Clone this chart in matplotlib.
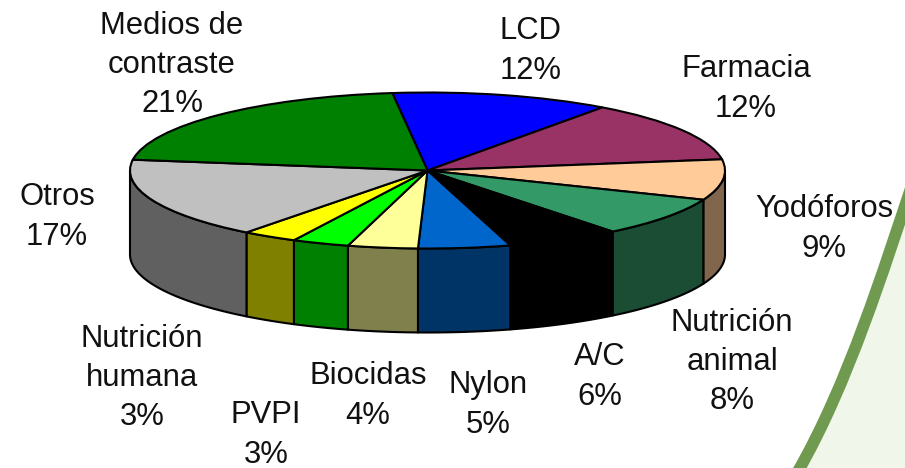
import numpy as np
import matplotlib
matplotlib.use("Agg")
import matplotlib.pyplot as plt
from matplotlib.colors import to_rgb
from matplotlib.path import Path
from matplotlib.patches import PathPatch
from matplotlib.transforms import Affine2D

plt.rcParams['font.family'] = ['Liberation Sans', 'DejaVu Sans']

# Data (clockwise from the top of the pie)
categories = ["LCD", "Farmacia", "Yodóforos", "Nutrición\nanimal", "A/C", "Nylon",
              "Biocidas", "PVPI", "Nutrición\nhumana", "Otros", "Medios de\ncontraste"]
percent_labels = [12, 12, 9, 8, 6, 5, 4, 3, 3, 17, 21]
slice_shares = [11.9, 12.7, 8.4, 8.2, 6.2, 5.0, 3.8, 3.1, 3.0, 16.8, 20.9]
colors = ["#0000FF", "#993366", "#FFCC99", "#339966", "#000000", "#0066CC",
          "#FFFF99", "#00FF00", "#FFFF00", "#C0C0C0", "#008000"]

# Layout (pixels of the 905x468 figure)
W, H = 905, 468
cx, cy, rx, ry, depth_px = 427.5, 170.5, 297.5, 78.0, 84.0
first_angle = -6.8
label_pos = [(531, 51), (746, 89), (824, 229), (732, 362), (600, 377), (488, 405),
             (368, 396), (266, 435), (142, 378), (57, 217), (172, 65)]

fig = plt.figure(figsize=(W / 100, H / 100), dpi=100, facecolor="white")
ax = fig.add_axes([0, 0, 1, 1])
px = Affine2D().scale(1 / W, -1 / H).translate(0, 1) + fig.transFigure

# Decorative swoosh at the lower right
edge = [(912, 185), (885, 265), (848, 385), (797, 473)]
tint = Path(edge + [(912, 473), (912, 185)],
            [Path.MOVETO, Path.CURVE4, Path.CURVE4, Path.CURVE4, Path.LINETO, Path.CLOSEPOLY])
fig.add_artist(PathPatch(tint, transform=px, facecolor="#F1F6EA", edgecolor="none", zorder=0))
stroke = Path(edge, [Path.MOVETO, Path.CURVE4, Path.CURVE4, Path.CURVE4])
fig.add_artist(PathPatch(stroke, transform=px, facecolor="none", edgecolor="#6F9A4F",
                         linewidth=8.5, zorder=0))

# Top face
ax.pie(slice_shares, colors=colors, startangle=90 - first_angle, counterclock=False, radius=1,
       wedgeprops=dict(edgecolor="black", linewidth=1.5, zorder=3))
ax.set_aspect("auto")
ax.set_xlim(-cx / rx, (W - cx) / rx)
ax.set_ylim((cy - H) / ry, cy / ry)
ax.patch.set_alpha(0)
ax.axis("off")

# Side wall: visible for the front half only, colours at half brightness
depth = depth_px / ry
edges = first_angle + 3.6 * np.concatenate([[0], np.cumsum(slice_shares)])
for a0, a1, c in zip(edges[:-1], edges[1:], colors):
    lo, hi = max(a0, 90), min(a1, 270)
    if hi <= lo:
        continue
    t = np.radians(np.linspace(lo, hi, 80))
    x, y = np.sin(t), np.cos(t)
    ax.fill(np.r_[x, x[::-1]], np.r_[y, y[::-1] - depth],
            facecolor=tuple(v * 0.5 for v in to_rgb(c)), edgecolor="black",
            linewidth=1.5, zorder=1, joinstyle="round")

# Labels
for name, v, (lx, ly) in zip(categories, percent_labels, label_pos):
    fig.text(lx / W, 1 - ly / H, f"{name}\n{v}%", ha="center", va="center",
             multialignment="center", fontsize=22.3, linespacing=1.41, color="#111111")

fig.savefig("out.png", dpi=100)
